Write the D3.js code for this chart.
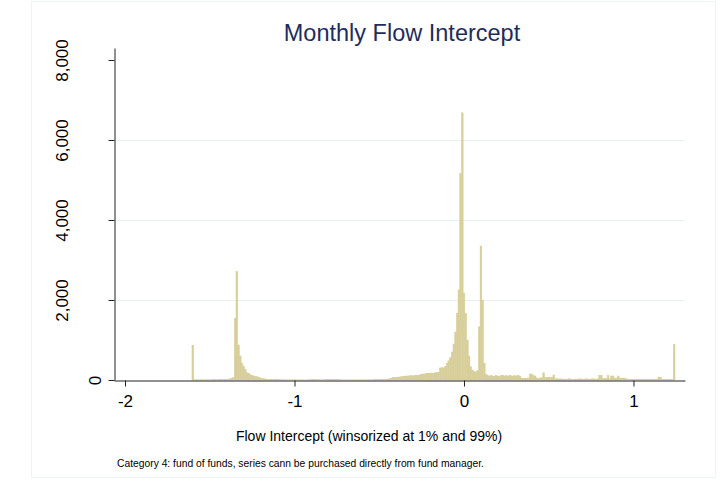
<!DOCTYPE html>
<html>
<head>
<meta charset="utf-8">
<script src="https://cdn.jsdelivr.net/npm/d3@7"></script>
<style>
  body { margin: 0; background: #fff; }
  text { font-family: "Liberation Sans", Arial, sans-serif; }
</style>
</head>
<body>
<div id="chart"></div>
<script>
// histogram of monthly flow intercept, bins of width 0.01 starting at -1.60
var binStart = -1.60;
var binWidth = 0.01;
var counts = [
  870, 6, 5, 4, 5, 6, 4, 5, 6, 5,            // -1.60
  6, 5, 8, 10, 6, 7, 12, 8, 9, 10,           // -1.50
  15, 20, 30, 40, 60, 1540, 2710, 875, 600, 420, // -1.40
  350, 260, 180, 170, 130, 110, 100, 90, 80, 60, // -1.30
  50, 40, 30, 25, 20, 15, 12, 10, 10, 8,     // -1.20
  8, 7, 6, 6, 5, 5, 4, 5, 4, 4,              // -1.10
  4, 5, 3, 4, 3, 4, 3, 3, 4, 3,              // -1.00
  8, 10, 12, 10, 8, 6, 5, 4, 8, 10,          // -0.90
  12, 10, 8, 10, 12, 9, 8, 6, 5, 4,          // -0.80
  4, 3, 4, 3, 3, 4, 3, 3, 4, 4,              // -0.70
  4, 5, 4, 5, 6, 5, 6, 7, 8, 10,             // -0.60
  10, 12, 14, 16, 20, 25, 30, 45, 60, 65,    // -0.50
  65, 70, 75, 80, 90, 95, 100, 100, 105, 110, // -0.40
  100, 110, 120, 115, 130, 140, 150, 150, 160, 170, // -0.30
  170, 175, 170, 180, 185, 190, 300, 310, 300, 340, // -0.20
  420, 480, 560, 700, 900, 1200, 1670, 2250, 5160, 6680, // -0.10
  2170, 1670, 1000, 600, 330, 250, 210, 200, 230, 1330, // 0.00
  3350, 2000, 420, 140, 110, 100, 120, 95, 100, 110, // 0.10
  100, 90, 115, 120, 100, 110, 95, 120, 105, 90, // 0.20
  110, 100, 120, 90, 50, 40, 45, 40, 50, 150, // 0.30
  150, 110, 100, 50, 45, 50, 60, 180, 60, 65, // 0.40
  65, 60, 70, 125, 30, 30, 25, 30, 25, 20,   // 0.50
  25, 20, 30, 25, 20, 15, 25, 20, 30, 25,    // 0.60
  20, 25, 30, 25, 20, 25, 30, 25, 20, 30,    // 0.70
  115, 115, 30, 40, 35, 115, 30, 100, 100, 35, // 0.80
  50, 100, 50, 45, 50, 40, 30, 20, 20, 15,   // 0.90
  20, 15, 20, 20, 15, 20, 15, 20, 15, 20,    // 1.00
  20, 15, 20, 20, 25, 75, 70, 10, 10, 10,    // 1.10
  10, 8, 10, 8, 890                          // 1.20
];
var xTicks = [-2, -1, 0, 1];
var yTicks = [0, 2000, 4000, 6000, 8000];
var yGrid = [2000, 4000, 6000];

var titleText = "Monthly Flow Intercept";
var xTitle = "Flow Intercept (winsorized at 1% and 99%)";
var noteText = "Category 4: fund of funds, series cann be purchased directly from fund manager.";

var W = 723, H = 485;
var plotLeft = 114, plotRight = 685, plotTop = 48, plotBottom = 380;

var svg = d3.select("#chart").append("svg")
    .attr("width", W)
    .attr("height", H);

svg.append("rect")
    .attr("x", 31.5).attr("y", 1.5)
    .attr("width", 684).attr("height", 476)
    .attr("fill", "#fff")
    .attr("stroke", "#eef3f5");

var x = d3.scaleLinear().domain([-2.065, 1.304]).range([plotLeft, plotRight]);
var y = d3.scaleLinear().domain([0, 8300]).range([plotBottom, plotTop]);

// grid
svg.append("g").selectAll("line")
    .data(yGrid)
    .enter().append("line")
    .attr("x1", plotLeft).attr("x2", plotRight)
    .attr("y1", function(d){ return y(d) + 0.5; })
    .attr("y2", function(d){ return y(d) + 0.5; })
    .attr("stroke", "#e7eff0")
    .attr("stroke-width", 1);

// bars
svg.append("g").selectAll("rect")
    .data(counts)
    .enter().append("rect")
    .attr("x", function(d, i){ return x(binStart + i * binWidth - binWidth / 2); })
    .attr("width", function(d, i){
        return x(binStart + i * binWidth + binWidth / 2) - x(binStart + i * binWidth - binWidth / 2);
    })
    .attr("y", function(d){ return y(d); })
    .attr("height", function(d){ return y(0) - y(d); })
    .attr("fill", "#d7ce9a")
    .attr("stroke", "#d7ce9a")
    .attr("stroke-width", 0.5);

// axes
var xAxis = svg.append("g")
    .attr("transform", "translate(0," + (plotBottom + 0.5) + ")")
    .call(d3.axisBottom(x).tickValues(xTicks).tickSize(6).tickSizeOuter(0).tickPadding(8)
        .tickFormat(function(d){ return d; }));

var yAxis = svg.append("g")
    .attr("transform", "translate(" + (plotLeft + 0.5) + ",0)")
    .call(d3.axisLeft(y).tickValues(yTicks).tickSize(6).tickSizeOuter(0)
        .tickFormat(d3.format(",")));

svg.selectAll(".domain, .tick line").attr("stroke", "#222");
xAxis.selectAll("text").attr("font-size", 17).attr("fill", "#000")
    .attr("font-family", "Liberation Sans, Arial, sans-serif");

yAxis.selectAll("text")
    .attr("font-size", 17).attr("fill", "#000")
    .attr("font-family", "Liberation Sans, Arial, sans-serif")
    .attr("text-anchor", "middle")
    .attr("x", null).attr("dy", null)
    .each(function(){
        var len = this.getComputedTextLength();
        var cx = -10 - len;
        d3.select(this)
            .attr("x", 0).attr("y", 0).attr("dy", "0.35em")
            .attr("transform", "translate(" + cx + ",0) rotate(-90)");
    });

// titles
svg.append("text")
    .attr("x", 402).attr("y", 41)
    .attr("text-anchor", "middle")
    .attr("font-size", 23.5)
    .attr("fill", "#1f2d5c")
    .text(titleText);

svg.append("text")
    .attr("x", 369).attr("y", 441)
    .attr("text-anchor", "middle")
    .attr("font-size", 14)
    .attr("fill", "#000")
    .text(xTitle);

svg.append("text")
    .attr("x", 117).attr("y", 467)
    .attr("font-size", 10.3)
    .attr("fill", "#000")
    .text(noteText);
</script>
</body>
</html>
